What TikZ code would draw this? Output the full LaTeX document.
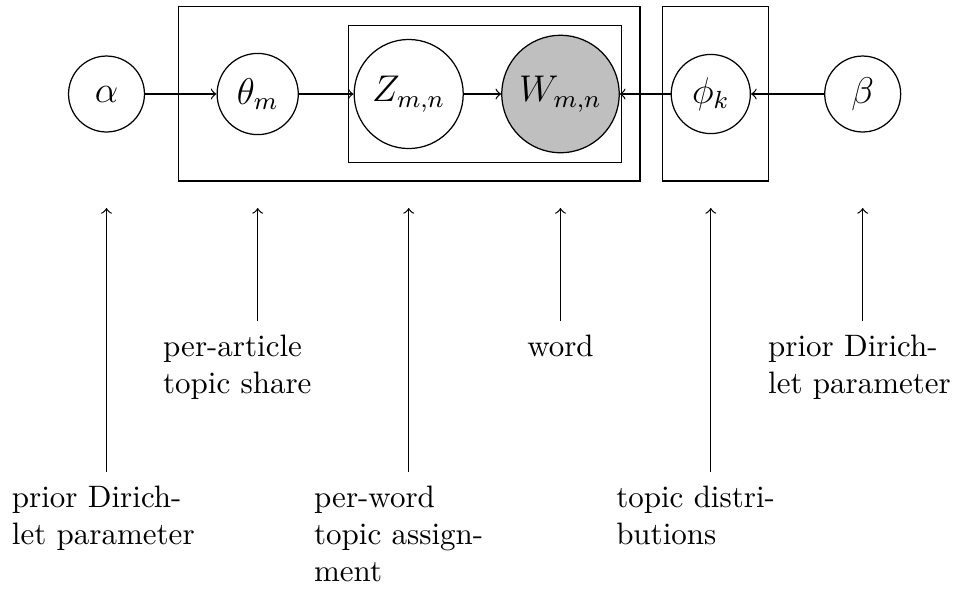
\documentclass[tikz,border=0pt]{standalone}
\begin{document}
\begin{tikzpicture}[x=0.3226pt, y=-0.3226pt,
  var/.style={circle, draw, minimum size=24.5pt, inner sep=3.33pt, font=\large},
  obs/.style={var, fill=gray!50},
  plate/.style={draw, rectangle, inner sep=0pt},
  lab/.style={anchor=north, text width=61pt, inner xsep=0pt, inner ysep=4.3pt},
  wlab/.style={anchor=north, inner ysep=4.3pt},
  conn/.style={->}]
\useasboundingbox (0,0) rectangle (958,592);
% plates
\node[plate, minimum width=148.8pt, minimum height=56.23pt] (outer) at (409.35,93.85) {};
\node[plate, minimum width=88.07pt, minimum height=44.07pt] (inner) at (484.8,94) {};
\node[plate, minimum width=34.2pt, minimum height=56.23pt] (phiplate) at (715.3,93.85) {};
% variables
\node[var] (alpha) at (106.5,94) {$\alpha$};
\node[var] (theta) at (257.7,94) {$\theta_m$};
\node[var] (z) at (408.7,94) {$Z_{m,n}$};
\node[obs] (w) at (560.5,94) {$W_{m,n}$};
\node[var] (phi) at (710.8,94) {$\phi_k$};
\node[var] (beta) at (862.7,94) {$\beta$};
% edges
\draw[conn] (alpha) -- (theta);
\draw[conn] (theta) -- (z);
\draw[conn] (z) -- (w);
\draw[conn] (phi) -- (w);
\draw[conn] (beta) -- (phi);
% label targets
\coordinate (ta) at (106.5,208);
\coordinate (tt) at (257.7,208);
\coordinate (tz) at (408.7,208);
\coordinate (tw) at (560.5,208);
\coordinate (tp) at (710.8,208);
\coordinate (tb) at (862.7,208);
% labels
\node[lab] (la) at (106.5,471.7) {prior Dirichlet parameter};
\node[lab] (lt) at (257.7,320.7) {per-article topic share};
\node[lab] (lz) at (408.7,471.7) {per-word topic assignment};
\node[wlab] (lw) at (560.5,320.7) {word};
\node[lab] (lp) at (710.8,471.7) {topic distributions};
\node[lab] (lb) at (862.7,320.7) {prior Dirichlet parameter};
\draw[conn] (la) -- (ta);
\draw[conn] (lt) -- (tt);
\draw[conn] (lz) -- (tz);
\draw[conn] (lw) -- (tw);
\draw[conn] (lp) -- (tp);
\draw[conn] (lb) -- (tb);
\end{tikzpicture}
\end{document}
